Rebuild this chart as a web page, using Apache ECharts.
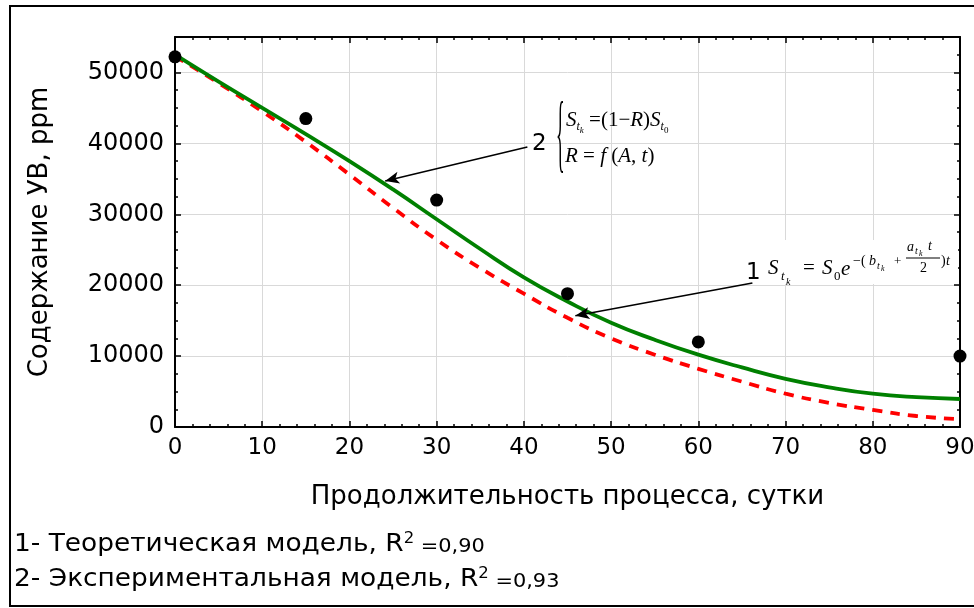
<!DOCTYPE html>
<html>
<head>
<meta charset="utf-8">
<script src="https://cdn.jsdelivr.net/npm/echarts@6/dist/echarts.min.js"></script>
<style>
  html, body { margin: 0; padding: 0; background: #fff; }
  #chart { width: 974px; height: 608px; }
</style>
</head>
<body>
<div id="chart"></div>
<script>
// time, days
const days = [0, 5, 10, 15, 20, 25, 30, 35, 40, 45, 50, 55, 60, 65, 70, 75, 80, 85, 90]
// green solid curve
const modelSolid = [52500, 48700, 45000, 41300, 37500, 33500, 29300, 25100, 21100, 17700, 14700, 12300, 10200, 8400, 6800, 5600, 4700, 4200, 3950]
// red dashed curve
const modelDashed = [52300, 48500, 44500, 40200, 35600, 30900, 26400, 22400, 18800, 15400, 12500, 10200, 8200, 6400, 4700, 3400, 2400, 1550, 1100]
// measured points
const measuredDays = [0, 15, 30, 45, 60, 90]
const measuredValues = [52200, 43500, 32000, 18800, 12000, 10000]
// annotation arrows [from, to] in data units
const arrowOne = [[66.2, 20300], [45.9, 15700]]
const arrowTwo = [[40.4, 39500], [24.1, 34700]]

const font = 'DejaVu Sans, Arial, sans-serif'
const serif = 'Liberation Serif, Times New Roman, serif'

const chart = echarts.init(document.getElementById('chart'), null, { renderer: 'canvas' })

const axisCommon = {
  axisLine: { show: true, onZero: false, lineStyle: { color: '#000', width: 2 } },
  axisTick: { show: true, inside: true, length: 6, lineStyle: { color: '#000', width: 1.5 } },
  minorTick: { show: true, length: 3, lineStyle: { color: '#000', width: 1.5 } },
}

const mainRich = (size) => ({
  n: { fontFamily: serif, fontSize: size, color: '#000', verticalAlign: 'middle' },
  i: { fontFamily: serif, fontSize: size, fontStyle: 'italic', color: '#000', verticalAlign: 'middle' },
  sub: { fontFamily: serif, fontSize: 12, fontStyle: 'italic', color: '#000', verticalAlign: 'middle', padding: [14, 0, 0, 0] },
  subk: { fontFamily: serif, fontSize: 9, fontStyle: 'italic', color: '#000', verticalAlign: 'middle', padding: [22, 0, 0, 0] },
  sub0: { fontFamily: serif, fontSize: 9, color: '#000', verticalAlign: 'middle', padding: [22, 0, 0, 0] },
})

const txt = (x, y, text, size, opts = {}) => ({
  type: 'text', x, y, z: 100,
  style: Object.assign({
    text, fontSize: size, fontFamily: serif, fill: '#000', verticalAlign: 'middle', align: 'left',
  }, opts),
})

const legendRich = {
  m: { fontFamily: font, fontSize: 24, color: '#000', verticalAlign: 'middle' },
  sup: { fontFamily: font, fontSize: 15, color: '#000', verticalAlign: 'middle', padding: [0, 0, 12, 0] },
  s: { fontFamily: font, fontSize: 19, color: '#000', verticalAlign: 'middle', padding: [5, 0, 0, 0] },
}

chart.setOption({
  backgroundColor: '#fff',
  animation: false,
  grid: { left: 175, right: 14, top: 37, bottom: 181, outerBoundsMode: 'none' },
  xAxis: [
    {
      ...axisCommon,
      type: 'value', min: 0, max: 90, interval: 10,
      minorTick: { ...axisCommon.minorTick, splitNumber: 5 },
      axisLabel: { color: '#000', fontSize: 23, fontFamily: font, margin: 10 },
      splitLine: { show: true, lineStyle: { color: '#d9d9d9', width: 1 } },
      name: 'Продолжительность процесса, сутки',
      nameLocation: 'middle', nameGap: 57,
      nameTextStyle: { color: '#000', fontSize: 26, fontFamily: font },
    },
    {
      ...axisCommon,
      type: 'value', min: 0, max: 90, interval: 10, position: 'top',
      minorTick: { ...axisCommon.minorTick, splitNumber: 5 },
      axisLabel: { show: false }, splitLine: { show: false },
    },
  ],
  yAxis: [
    {
      ...axisCommon,
      type: 'value', min: 0, max: 55000, interval: 10000,
      minorTick: { ...axisCommon.minorTick, splitNumber: 4 },
      axisLabel: { color: '#000', fontSize: 24, fontFamily: font, margin: 11, showMaxLabel: false, formatter: (v) => String(v) },
      splitLine: { show: true, lineStyle: { color: '#d9d9d9', width: 1 } },
      name: 'Содержание УВ, ppm',
      nameLocation: 'middle', nameGap: 122,
      nameTextStyle: { color: '#000', fontSize: 26, fontFamily: font },
    },
    {
      ...axisCommon,
      type: 'value', min: 0, max: 55000, interval: 10000, position: 'right',
      minorTick: { ...axisCommon.minorTick, splitNumber: 4 },
      axisLabel: { show: false }, splitLine: { show: false },
    },
  ],
  series: [
    {
      type: 'line', name: 'dashed', smooth: 0.5, showSymbol: false,
      data: days.map((d, i) => [d, modelDashed[i]]),
      lineStyle: { color: '#ff0000', width: 3.8, type: [10, 8] },
    },
    {
      type: 'line', name: 'solid', smooth: 0.5, showSymbol: false,
      data: days.map((d, i) => [d, modelSolid[i]]),
      lineStyle: { color: '#008000', width: 3.8 },
    },
    {
      type: 'scatter', name: 'measured', symbolSize: 13, z: 5,
      data: measuredDays.map((d, i) => [d, measuredValues[i]]),
      itemStyle: { color: '#000', opacity: 1 },
      markLine: {
        silent: true, animation: false,
        symbol: ['none', 'arrow'], symbolSize: [9, 14],
        label: { show: false },
        lineStyle: { color: '#000', width: 1.5, type: 'solid' },
        data: [
          [{ coord: arrowOne[0] }, { coord: arrowOne[1] }],
          [{ coord: arrowTwo[0] }, { coord: arrowTwo[1] }],
        ],
      },
    },
  ],
  graphic: [
    // outer frame
    { type: 'rect', shape: { x: 10, y: 6, width: 975, height: 600 }, style: { fill: 'none', stroke: '#000', lineWidth: 2 }, z: 50 },
    // formula 2
    txt(532, 144, '2', 23, { fontFamily: font }),
    { type: 'text', x: 556, y: 138, scaleX: 0.5, scaleY: 2.4, z: 100,
      style: { text: '{', fontSize: 36, fontFamily: serif, fill: '#000', verticalAlign: 'middle' } },
    { type: 'text', x: 566, y: 120, z: 100,
      style: { text: '{i|S}{sub|t}{subk|k}{n| =(1−}{i|R}{n|)}{i|S}{sub|t}{sub0|0}', rich: mainRich(21), verticalAlign: 'middle' } },
    { type: 'text', x: 565, y: 156, z: 100,
      style: { text: '{i|R}{n| = }{i|f}{n| (}{i|A}{n|, }{i|t}{n|)}', rich: mainRich(21), verticalAlign: 'middle' } },
    // formula 1
    { type: 'rect', shape: { x: 766, y: 240, width: 192, height: 44 }, style: { fill: '#fff' }, z: 90 },
    txt(746, 273, '1', 23, { fontFamily: font }),
    txt(768, 268, 'S', 21, { fontStyle: 'italic' }),
    txt(781, 277, 't', 13, { fontStyle: 'italic' }),
    txt(786, 282, 'k', 10, { fontStyle: 'italic' }),
    txt(803, 268, '=', 21),
    txt(822, 268, 'S', 21, { fontStyle: 'italic' }),
    txt(834, 277, '0', 13),
    txt(841, 269, 'e', 21, { fontStyle: 'italic' }),
    txt(853, 261, '−(', 14),
    txt(869, 261, 'b', 14, { fontStyle: 'italic' }),
    txt(877, 266, 't', 10, { fontStyle: 'italic' }),
    txt(881, 269, 'k', 8, { fontStyle: 'italic' }),
    txt(894, 262, '+', 13),
    txt(907, 247, 'a', 14, { fontStyle: 'italic' }),
    txt(915, 251, 't', 10, { fontStyle: 'italic' }),
    txt(919, 254, 'k', 8, { fontStyle: 'italic' }),
    txt(928, 246, 't', 14, { fontStyle: 'italic' }),
    { type: 'line', shape: { x1: 906, y1: 258, x2: 940, y2: 258 }, style: { stroke: '#000', lineWidth: 1 }, z: 100 },
    txt(920, 268, '2', 14),
    txt(941, 261, ')', 14),
    txt(946, 261, 't', 14, { fontStyle: 'italic' }),
    // legend notes
    { type: 'text', x: 14, y: 545, scaleX: 1.1, z: 100,
      style: { text: '{m|1- Теоретическая модель, R}{sup|2}{s| =0,90}', rich: legendRich, verticalAlign: 'middle' } },
    { type: 'text', x: 14, y: 580, scaleX: 1.1, z: 100,
      style: { text: '{m|2- Экспериментальная модель, R}{sup|2}{s| =0,93}', rich: legendRich, verticalAlign: 'middle' } },
  ],
})
</script>
</body>
</html>
